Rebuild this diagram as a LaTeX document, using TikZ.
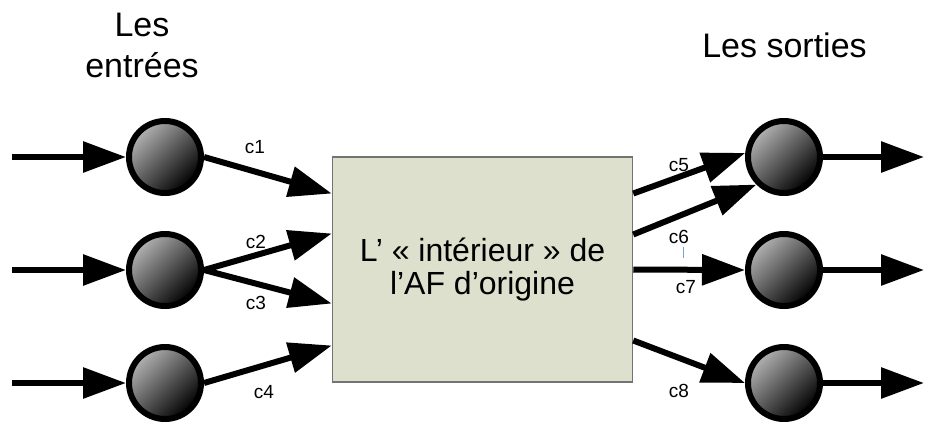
\documentclass[tikz,border=0pt]{standalone}
\usepackage{fontspec}
\setmainfont{Liberation Sans}
\usetikzlibrary{arrows.meta}
\definecolor{boxfill}{RGB}{221,224,205}
\definecolor{cursorblue}{RGB}{120,160,215}

\begin{document}
\begin{tikzpicture}[x=1pt, y=-1pt,
  etat/.style={circle, draw=black, line width=6pt, minimum size=72pt, inner sep=0pt,
    top color=black!30, bottom color=black, shading angle=45},
  fleche/.style={line width=6pt, -{Triangle[length=43pt, width=30pt]}},
  lbl/.style={font=\fontsize{19}{22}\selectfont, inner sep=0pt}]
\useasboundingbox (0,0) rectangle (925,421);
% les etats d'entree et de sortie
\node[etat] (e1) at (165,157) {};
\node[etat] (e2) at (165,270) {};
\node[etat] (e3) at (165,383) {};
\node[etat] (s1) at (784,157) {};
\node[etat] (s2) at (784,270) {};
\node[etat] (s3) at (784,383) {};
% la boite centrale
\node[draw=black!55, line width=1.5pt, fill=boxfill, minimum width=300pt, minimum height=225pt,
  align=center, font=\fontsize{32}{32.5}\selectfont] (af) at (482.5,269.5)
  {L’ « intérieur » de\\l’AF d’origine};
\node[align=center, anchor=north, inner sep=0pt, font=\fontsize{34}{41}\selectfont]
  (ent) at (142,13) {Les\\entrées};
\node[anchor=base, inner sep=0pt, font=\fontsize{34}{41}\selectfont] (sor) at (784.5,57) {Les sorties};
% fleches libres
\coordinate (a1) at (12,157);
\coordinate (a2) at (12,270);
\coordinate (a3) at (12,383);
\coordinate (b1) at (924,157);
\coordinate (b2) at (924,270);
\coordinate (b3) at (924,383);
\draw[fleche] (a1) -- (e1.west);
\draw[fleche] (a2) -- (e2.west);
\draw[fleche] (a3) -- (e3.west);
\draw[fleche] (s1.east) -- (b1);
\draw[fleche] (s2.east) -- (b2);
\draw[fleche] (s3.east) -- (b3);
% transitions vers et depuis la boite
\draw[fleche] (e1.east) -- ([yshift=76pt]af.west);
\draw[fleche] (e2.east) -- ([yshift=36pt]af.west);
\draw[fleche] (e2.east) -- ([yshift=-34pt]af.west);
\draw[fleche] (e3.east) -- ([yshift=-76pt]af.west);
\draw[fleche] ([yshift=76pt]af.east) -- (s1.174);
\draw[fleche] ([yshift=35pt]af.east) -- (s1.225);
\draw[fleche] (af.east) -- (s2.west);
\draw[fleche] ([yshift=-71pt]af.east) -- (s3.west);
\node[lbl] (l1) at (255,147) {c1};
\node[lbl] (l2) at (256,242) {c2};
\node[lbl] (l3) at (256,303) {c3};
\node[lbl] (l4) at (264,392) {c4};
\node[lbl] (l5) at (679,165) {c5};
\node[lbl] (l6) at (679,237) {c6};
\node[lbl] (l7) at (686,287) {c7};
\node[lbl] (l8) at (679,391) {c8};
\draw[cursorblue, line width=1pt] (683,247) -- (683,258);
\end{tikzpicture}
\end{document}
